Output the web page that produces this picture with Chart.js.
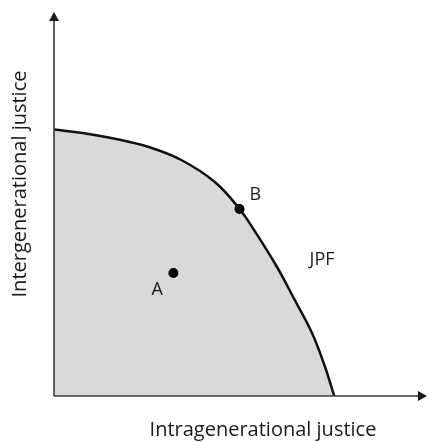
<!DOCTYPE html>
<html>
<head>
<meta charset="utf-8">
<script src="https://cdn.jsdelivr.net/npm/chart.js@4/dist/chart.umd.min.js"></script>
<style>
  html, body { margin: 0; padding: 0; background: #ffffff; }
  canvas { display: block; }
</style>
</head>
<body>
<canvas id="c" width="432" height="442"></canvas>
<script>
// Frontier (JPF): x = intragenerational, y = intergenerational
const frontierX = [0, 29, 63, 96, 129, 163, 188, 204, 226, 244, 261, 274, 284];
const frontierY = [266.5, 263, 257, 249, 236, 214, 187, 164, 129, 96, 64, 31, 0];
// Marked points
const pointNames = ['A', 'B'];
const pointX = [121, 188];
const pointY = [123, 187];
// Text labels
const labelText = ['A', 'B', 'JPF'];
const labelX = [104.5, 204, 259];
const labelY = [106, 201, 136];
const labelAlign = ['center', 'center', 'left'];
const xTitle = 'Intragenerational justice';
const yTitle = 'Intergenerational justice';

const FONT = '"Open Sans", "DejaVu Sans", sans-serif';

const frontierData = frontierX.map((x, i) => ({ x: x, y: frontierY[i] }));
const pointData = pointX.map((x, i) => ({ x: x, y: pointY[i] }));

const decorations = {
  id: 'decorations',
  afterDraw(chart) {
    const ctx = chart.ctx;
    const xs = chart.scales.x, ys = chart.scales.y;
    const x0 = xs.getPixelForValue(0), y0 = ys.getPixelForValue(0);
    const xEnd = chart.chartArea.right, yEnd = chart.chartArea.top;
    ctx.save();
    ctx.strokeStyle = '#3c3c3c';
    ctx.fillStyle = '#1a1a1a';
    ctx.lineWidth = 1.6;
    ctx.beginPath();
    ctx.moveTo(x0, y0);
    ctx.lineTo(x0, yEnd + 6);
    ctx.moveTo(x0, y0);
    ctx.lineTo(xEnd - 6, y0);
    ctx.stroke();
    ctx.beginPath();
    ctx.moveTo(x0, yEnd);
    ctx.lineTo(x0 - 5, yEnd + 9);
    ctx.lineTo(x0 + 5, yEnd + 9);
    ctx.closePath();
    ctx.fill();
    ctx.beginPath();
    ctx.moveTo(xEnd, y0);
    ctx.lineTo(xEnd - 9, y0 - 5);
    ctx.lineTo(xEnd - 9, y0 + 5);
    ctx.closePath();
    ctx.fill();
    ctx.font = '18px ' + FONT;
    ctx.textBaseline = 'middle';
    labelText.forEach((t, i) => {
      ctx.textAlign = labelAlign[i];
      ctx.fillText(t, xs.getPixelForValue(labelX[i]), ys.getPixelForValue(labelY[i]));
    });
    ctx.font = '20px ' + FONT;
    ctx.textAlign = 'center';
    ctx.textBaseline = 'alphabetic';
    ctx.fillText(xTitle, 263, 436);
    ctx.restore();

    ctx.save();
    ctx.font = '20px ' + FONT;
    ctx.fillStyle = '#1a1a1a';
    ctx.textAlign = 'center';
    ctx.textBaseline = 'alphabetic';
    ctx.translate(26, 184);
    ctx.rotate(-Math.PI / 2);
    ctx.fillText(yTitle, 0, 0);
    ctx.restore();
  }
};

new Chart(document.getElementById('c'), {
  type: 'scatter',
  data: {
    datasets: [
      {
        label: 'JPF',
        data: frontierData,
        showLine: true,
        borderColor: '#111111',
        borderWidth: 2.5,
        backgroundColor: '#d9d9d9',
        fill: 'origin',
        pointRadius: 0,
        tension: 0.4,
        order: 2
      },
      {
        label: 'Points',
        data: pointData,
        showLine: false,
        pointRadius: 5,
        pointBackgroundColor: '#000000',
        pointBorderWidth: 0,
        order: 1
      }
    ]
  },
  options: {
    responsive: false,
    animation: false,
    layout: { padding: { left: 54, right: 0, top: 12, bottom: 46 } },
    plugins: { legend: { display: false }, tooltip: { enabled: false } },
    scales: {
      x: { type: 'linear', min: 0, max: 378, display: false },
      y: { type: 'linear', min: 0, max: 384, display: false }
    }
  },
  plugins: [decorations]
});
</script>
</body>
</html>
